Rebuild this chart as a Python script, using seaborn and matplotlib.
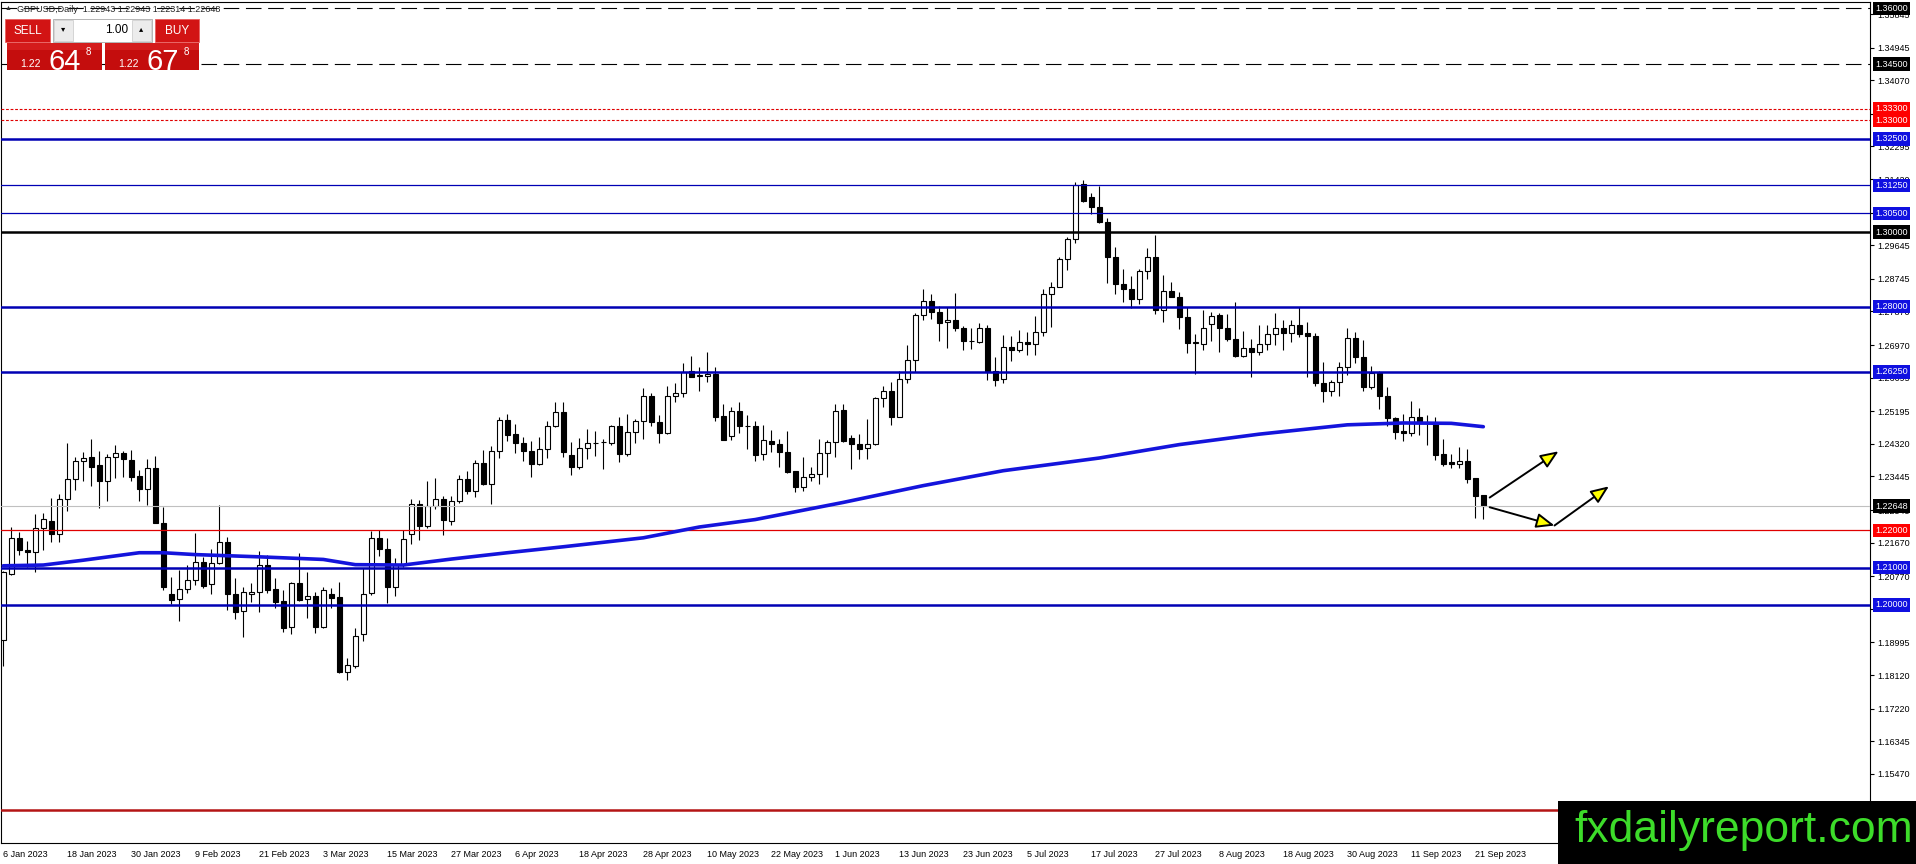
import numpy as np
import matplotlib
matplotlib.use('Agg')
import matplotlib.pyplot as plt
from matplotlib.patches import Rectangle, FancyArrowPatch
import seaborn as sns

# GBPUSD daily candles, 6 Jan 2023 .. 22 Sep 2023
opens = [
    1.1906, 1.2083, 1.2179, 1.2146, 1.2143, 1.2205, 1.2225, 1.2189, 1.2283, 1.2339,
    1.2385, 1.2396, 1.2375, 1.2333, 1.2396, 1.2407, 1.2389, 1.2346, 1.2310, 1.2366,
    1.2219, 1.2029, 1.2015, 1.2042, 1.2066, 1.2115, 1.2055, 1.2113, 1.2169, 1.2029,
    1.1985, 1.2030, 1.2036, 1.2107, 1.2042, 1.2011, 1.1940, 1.2058, 1.2016, 1.2024,
    1.1942, 1.2029, 1.2022, 1.1821, 1.1836, 1.1921, 1.2031, 1.2179, 1.2149, 1.2049,
    1.2107, 1.2190, 1.2270, 1.2213, 1.2264, 1.2284, 1.2226, 1.2280, 1.2337, 1.2306,
    1.2380, 1.2324, 1.2413, 1.2496, 1.2458, 1.2433, 1.2413, 1.2377, 1.2417, 1.2480,
    1.2517, 1.2402, 1.2369, 1.2420, 1.2433, 1.2436, 1.2433, 1.2480, 1.2404, 1.2463,
    1.2493, 1.2560, 1.2490, 1.2460, 1.2560, 1.2568, 1.2628, 1.2615, 1.2614, 1.2619,
    1.2507, 1.2454, 1.2521, 1.2481, 1.2481, 1.2405, 1.2440, 1.2432, 1.2411, 1.2359,
    1.2315, 1.2342, 1.2350, 1.2407, 1.2436, 1.2523, 1.2447, 1.2432, 1.2420, 1.2431,
    1.2554, 1.2574, 1.2505, 1.2605, 1.2657, 1.2778, 1.2816, 1.2786, 1.2758, 1.2764,
    1.2742, 1.2709, 1.2706, 1.2742, 1.2628, 1.2607, 1.2691, 1.2685, 1.2706, 1.2699,
    1.2733, 1.2834, 1.2853, 1.2927, 1.2980, 1.3128, 1.3093, 1.3066, 1.3028, 1.2932,
    1.2860, 1.2846, 1.2820, 1.2895, 1.2934, 1.2791, 1.2842, 1.2827, 1.2771, 1.2703,
    1.2701, 1.2753, 1.2778, 1.2742, 1.2712, 1.2668, 1.2688, 1.2677, 1.2700, 1.2727,
    1.2742, 1.2728, 1.2751, 1.2728, 1.2721, 1.2594, 1.2574, 1.2597, 1.2637, 1.2715,
    1.2666, 1.2584, 1.2623, 1.2559, 1.2500, 1.2467, 1.2462, 1.2503, 1.2490, 1.2489,
    1.2405, 1.2382, 1.2377, 1.2386, 1.2341, 1.2294,
]
highs = [
    1.2092, 1.2208, 1.2195, 1.2172, 1.2244, 1.2246, 1.2286, 1.2298, 1.2433, 1.2398,
    1.2409, 1.2445, 1.2412, 1.2404, 1.2429, 1.2414, 1.2416, 1.2362, 1.2391, 1.2399,
    1.2262, 1.2074, 1.2094, 1.2107, 1.2192, 1.2129, 1.2150, 1.2268, 1.2181, 1.2071,
    1.2049, 1.2058, 1.2145, 1.2134, 1.2071, 1.2040, 1.2062, 1.2140, 1.2088, 1.2036,
    1.2049, 1.2045, 1.2062, 1.1857, 1.1937, 1.2100, 1.2198, 1.2201, 1.2179, 1.2125,
    1.2201, 1.2283, 1.2281, 1.2332, 1.2341, 1.2292, 1.2292, 1.2349, 1.2359, 1.2389,
    1.2416, 1.2425, 1.2505, 1.2512, 1.2485, 1.2451, 1.2440, 1.2451, 1.2494, 1.2545,
    1.2545, 1.2436, 1.2447, 1.2471, 1.2467, 1.2444, 1.2483, 1.2505, 1.2512, 1.2498,
    1.2583, 1.2569, 1.2509, 1.2587, 1.2596, 1.2648, 1.2668, 1.2637, 1.2678, 1.2637,
    1.2539, 1.2532, 1.2545, 1.2509, 1.2493, 1.2483, 1.2469, 1.2444, 1.2466, 1.2359,
    1.2396, 1.2371, 1.2444, 1.2441, 1.2539, 1.2539, 1.2457, 1.2458, 1.2499, 1.2557,
    1.2588, 1.2599, 1.2628, 1.2697, 1.2782, 1.2847, 1.2834, 1.2802, 1.2800, 1.2836,
    1.2748, 1.2744, 1.2757, 1.2751, 1.2666, 1.2724, 1.2721, 1.2737, 1.2731, 1.2776,
    1.2846, 1.2867, 1.2934, 1.2986, 1.3135, 1.3140, 1.3106, 1.3123, 1.3037, 1.2961,
    1.2900, 1.2882, 1.2900, 1.2956, 1.2992, 1.2885, 1.2867, 1.2840, 1.2798, 1.2727,
    1.2791, 1.2786, 1.2782, 1.2779, 1.2813, 1.2735, 1.2713, 1.2751, 1.2751, 1.2784,
    1.2764, 1.2764, 1.2798, 1.2760, 1.2728, 1.2652, 1.2603, 1.2652, 1.2742, 1.2733,
    1.2711, 1.2641, 1.2628, 1.2584, 1.2503, 1.2512, 1.2547, 1.2527, 1.2509, 1.2503,
    1.2444, 1.2406, 1.2424, 1.2417, 1.2341, 1.2294,
]
lows = [
    1.1836, 1.2080, 1.2134, 1.2103, 1.2087, 1.2147, 1.2170, 1.2168, 1.2253, 1.2308,
    1.2332, 1.2320, 1.2261, 1.2280, 1.2341, 1.2342, 1.2332, 1.2280, 1.2268, 1.2219,
    1.2040, 1.2003, 1.1958, 1.2033, 1.2053, 1.2045, 1.2028, 1.2110, 1.1986, 1.1962,
    1.1913, 1.2009, 1.1982, 1.2033, 1.1991, 1.1928, 1.1921, 1.2011, 1.1964, 1.1924,
    1.1939, 1.1991, 1.1818, 1.1800, 1.1830, 1.1904, 1.2027, 1.2131, 1.2006, 1.2025,
    1.2103, 1.2163, 1.2174, 1.2205, 1.2257, 1.2188, 1.2214, 1.2274, 1.2298, 1.2290,
    1.2322, 1.2272, 1.2395, 1.2440, 1.2408, 1.2387, 1.2342, 1.2375, 1.2395, 1.2476,
    1.2396, 1.2348, 1.2365, 1.2391, 1.2400, 1.2364, 1.2429, 1.2384, 1.2400, 1.2433,
    1.2444, 1.2480, 1.2433, 1.2458, 1.2545, 1.2557, 1.2610, 1.2575, 1.2599, 1.2494,
    1.2441, 1.2441, 1.2460, 1.2418, 1.2387, 1.2389, 1.2411, 1.2371, 1.2355, 1.2304,
    1.2306, 1.2333, 1.2323, 1.2344, 1.2398, 1.2436, 1.2365, 1.2391, 1.2391, 1.2430,
    1.2532, 1.2482, 1.2503, 1.2596, 1.2626, 1.2764, 1.2768, 1.2709, 1.2688, 1.2734,
    1.2684, 1.2686, 1.2702, 1.2603, 1.2587, 1.2596, 1.2655, 1.2679, 1.2670, 1.2670,
    1.2721, 1.2746, 1.2852, 1.2898, 1.2970, 1.3080, 1.3048, 1.3025, 1.2864, 1.2834,
    1.2813, 1.2795, 1.2807, 1.2873, 1.2779, 1.2760, 1.2825, 1.2739, 1.2676, 1.2619,
    1.2685, 1.2709, 1.2679, 1.2709, 1.2666, 1.2664, 1.2612, 1.2670, 1.2684, 1.2697,
    1.2684, 1.2706, 1.2718, 1.2612, 1.2588, 1.2545, 1.2560, 1.2559, 1.2617, 1.2650,
    1.2575, 1.2580, 1.2525, 1.2480, 1.2444, 1.2440, 1.2452, 1.2456, 1.2429, 1.2390,
    1.2372, 1.2366, 1.2366, 1.2328, 1.2232, 1.2231,
]
closes = [
    1.2087, 1.2179, 1.2147, 1.2143, 1.2205, 1.2230, 1.2189, 1.2283, 1.2339, 1.2385,
    1.2393, 1.2371, 1.2333, 1.2396, 1.2407, 1.2391, 1.2344, 1.2312, 1.2366, 1.2219,
    1.2047, 1.2013, 1.2042, 1.2066, 1.2115, 1.2052, 1.2113, 1.2168, 1.2028, 1.1982,
    1.2036, 1.2036, 1.2107, 1.2040, 1.2009, 1.1937, 1.2058, 1.2013, 1.2024, 1.1942,
    1.2040, 1.2019, 1.1821, 1.1839, 1.1918, 1.2028, 1.2179, 1.2149, 1.2049, 1.2107,
    1.2176, 1.2270, 1.2213, 1.2264, 1.2283, 1.2228, 1.2280, 1.2337, 1.2306, 1.2380,
    1.2324, 1.2413, 1.2496, 1.2456, 1.2433, 1.2413, 1.2377, 1.2417, 1.2480, 1.2517,
    1.2409, 1.2369, 1.2420, 1.2433, 1.2435, 1.2437, 1.2480, 1.2404, 1.2463, 1.2493,
    1.2560, 1.2490, 1.2460, 1.2560, 1.2568, 1.2626, 1.2612, 1.2617, 1.2619, 1.2505,
    1.2441, 1.2521, 1.2481, 1.2480, 1.2402, 1.2442, 1.2431, 1.2409, 1.2357, 1.2315,
    1.2342, 1.2350, 1.2407, 1.2436, 1.2521, 1.2440, 1.2431, 1.2417, 1.2432, 1.2554,
    1.2574, 1.2505, 1.2605, 1.2657, 1.2778, 1.2816, 1.2786, 1.2757, 1.2764, 1.2742,
    1.2709, 1.2708, 1.2742, 1.2628, 1.2603, 1.2691, 1.2685, 1.2706, 1.2699, 1.2733,
    1.2834, 1.2853, 1.2927, 1.2980, 1.3126, 1.3084, 1.3066, 1.3028, 1.2932, 1.2860,
    1.2846, 1.2820, 1.2895, 1.2934, 1.2791, 1.2843, 1.2827, 1.2771, 1.2703, 1.2704,
    1.2744, 1.2776, 1.2742, 1.2712, 1.2668, 1.2688, 1.2677, 1.2700, 1.2727, 1.2742,
    1.2728, 1.2751, 1.2726, 1.2721, 1.2594, 1.2575, 1.2597, 1.2637, 1.2715, 1.2666,
    1.2584, 1.2621, 1.2559, 1.2500, 1.2465, 1.2460, 1.2503, 1.2490, 1.2489, 1.2402,
    1.2377, 1.2377, 1.2386, 1.2338, 1.2292, 1.2265,
]

# moving average (blue curve), sampled at a few bars
ma_idx = [0, 5, 10, 17, 20, 24, 32, 40, 44, 50, 56, 63, 70, 80, 87, 94,
          105, 115, 125, 137, 147, 157, 168, 175, 181, 185]
ma_val = [1.2105, 1.2107, 1.2120, 1.2140, 1.2140, 1.2135, 1.2129, 1.2122, 1.2108,
          1.2107, 1.2123, 1.2140, 1.2156, 1.2180, 1.2209, 1.2229, 1.2275, 1.2320,
          1.2360, 1.2394, 1.2430, 1.2458, 1.2483, 1.2488, 1.2487, 1.2478]

# horizontal levels drawn on the chart
level_vals = [1.36, 1.345, 1.333, 1.33, 1.325, 1.3125, 1.305, 1.30, 1.28, 1.2625,
              1.22648, 1.22, 1.21, 1.20, 1.145]
level_kind = ['dash', 'dash', 'reddot', 'reddot', 'blue2', 'blue1', 'blue1', 'black2',
              'blue2', 'blue2', 'grey', 'red1', 'blue2', 'blue2', 'red2']
label_vals = level_vals[:-1]

ytick_vals = [1.35845, 1.34945, 1.34070, 1.33170, 1.32295, 1.31420, 1.30520, 1.29645,
              1.28745, 1.27870, 1.26970, 1.26095, 1.25195, 1.24320, 1.23445, 1.22545,
              1.21670, 1.20770, 1.19895, 1.18995, 1.18120, 1.17220, 1.16345, 1.15470]

date_labels = ['6 Jan 2023', '18 Jan 2023', '30 Jan 2023', '9 Feb 2023', '21 Feb 2023',
               '3 Mar 2023', '15 Mar 2023', '27 Mar 2023', '6 Apr 2023', '18 Apr 2023',
               '28 Apr 2023', '10 May 2023', '22 May 2023', '1 Jun 2023', '13 Jun 2023',
               '23 Jun 2023', '5 Jul 2023', '17 Jul 2023', '27 Jul 2023', '8 Aug 2023',
               '18 Aug 2023', '30 Aug 2023', '11 Sep 2023', '21 Sep 2023']
date_pos = [8 * i for i in range(len(date_labels))]

# the three drawn arrows: (start bar, start price, end bar, end price)
arrows = [(185.8, 1.2288, 194.4, 1.2412),
          (185.8, 1.2262, 193.9, 1.2213),
          (193.9, 1.2213, 200.7, 1.2318)]

W, H = 1916, 864
BLUE_LINE = '#0000b4'
BLUE_BOX = '#1010e0'

styles = {
    'dash': dict(color='black', lw=0.8, ls=(0, (14, 6))),
    'reddot': dict(color='#e00000', lw=0.8, ls=(0, (2.5, 1.6))),
    'blue2': dict(color=BLUE_LINE, lw=1.8, ls='-'),
    'blue1': dict(color=BLUE_LINE, lw=0.9, ls='-'),
    'black2': dict(color='black', lw=1.8, ls='-'),
    'grey': dict(color='#c0c0c0', lw=0.8, ls='-'),
    'red1': dict(color='#e00000', lw=0.9, ls='-'),
    'red2': dict(color='#b41414', lw=1.8, ls='-'),
}
box_color = {'dash': 'black', 'reddot': '#ff0000', 'blue2': BLUE_BOX, 'blue1': BLUE_BOX,
             'black2': 'black', 'grey': 'black', 'red1': '#ff0000'}


def fig_rect(fig, x0, y0, x1, y1, **kw):
    # rectangle in figure pixels, measured from the top-left corner
    fig.add_artist(Rectangle((x0 / W, 1 - y1 / H), (x1 - x0) / W, (y1 - y0) / H,
                             transform=fig.transFigure, **kw))


def fig_text(fig, x, y, s, **kw):
    fig.text(x / W, 1 - y / H, s, **kw)


if __name__ == "__main__":
    sns.set_style("white")
    plt.rcParams['font.family'] = ['Liberation Sans', 'DejaVu Sans']

    fig = plt.figure(figsize=(W / 100, H / 100), dpi=100)
    ax = fig.add_axes([1 / W, (H - 843) / H, (1870 - 1) / W, (843 - 2) / H])

    idx = np.arange(len(opens))
    o, h, l, c = (np.array(v) for v in (opens, highs, lows, closes))
    up = c >= o

    # candles: wicks then bodies
    ax.vlines(idx, l, h, color='black', lw=0.8, zorder=2)
    body_low = np.minimum(o, c)
    body_h = np.maximum(np.abs(c - o), 0.00003)
    ax.bar(idx, body_h, bottom=body_low, width=0.6,
           color=np.where(up, 'white', 'black'), edgecolor='black',
           linewidth=0.8, zorder=3)

    # support / resistance levels
    for val, kind in zip(level_vals, level_kind):
        ax.axhline(val, zorder=4, **styles[kind])

    # moving average
    sns.lineplot(x=ma_idx, y=ma_val, ax=ax, color='#1414dc', lw=2.6, zorder=5)

    # arrows
    for x0, y0, x1, y1 in arrows:
        ax.add_patch(FancyArrowPatch((x0, y0), (x1, y1),
                                     arrowstyle='-|>,head_length=11,head_width=4.5',
                                     fc='#ffff00', ec='black', lw=1.4,
                                     shrinkA=0, shrinkB=0, zorder=6))

    ax.set_xlim((1 - 3.3) / 8, (1870 - 3.3) / 8)
    ax.set_ylim(1.36 - (843 - 8.3) / 3729, 1.36 + (8.3 - 2) / 3729)

    # right price axis
    ax.yaxis.tick_right()
    ax.set_yticks(ytick_vals, [f'{v:.5f}' for v in ytick_vals])
    ax.tick_params(axis='y', length=3, width=0.8, pad=2, labelsize=6.5,
                   colors='black', direction='out')
    ax.set_xticks(date_pos, date_labels, ha='left')
    ax.tick_params(axis='x', length=3, width=0.8, pad=2, labelsize=6.5,
                   colors='black', direction='out')
    ax.set_xlabel('')
    ax.set_ylabel('')
    for sp in ax.spines.values():
        sp.set_color('black')
        sp.set_linewidth(0.8)

    # coloured price boxes on the right axis
    ytr = ax.get_yaxis_transform()
    for val, kind in zip(label_vals, level_kind):
        ax.text(1 + 5 / 1869, val, f'{val:.5f}', transform=ytr, ha='left',
                va='center', fontsize=6.5, color='white', clip_on=False, zorder=10,
                bbox=dict(boxstyle='square,pad=0.25', fc=box_color[kind], ec='none'))

    # header line
    fig_text(fig, 5, 9, '\u25b2', fontsize=5, color='#333333', va='center')
    fig_text(fig, 17, 9, 'GBPUSD,Daily  1.22943 1.22943 1.22314 1.22648',
             fontsize=6.5, color='#222222', va='center')

    # one-click trading panel
    fig_rect(fig, 5, 19, 50, 42, fc='#d21414', ec='#e86060', lw=0.6)
    fig_rect(fig, 155, 19, 199, 42, fc='#d21414', ec='#e86060', lw=0.6)
    fig_rect(fig, 53, 19, 152, 42, fc='white', ec='#a8a8a8', lw=0.6)
    fig_rect(fig, 54, 20, 73, 41, fc='#ececec', ec='#c8c8c8', lw=0.5)
    fig_rect(fig, 132, 20, 151, 41, fc='#ececec', ec='#c8c8c8', lw=0.5)
    fig_text(fig, 27.5, 31, 'SELL', fontsize=8.5, color='white', ha='center', va='center')
    fig_text(fig, 177, 31, 'BUY', fontsize=8.5, color='white', ha='center', va='center')
    fig_text(fig, 63.5, 30, '\u25be', fontsize=6, color='black', ha='center', va='center')
    fig_text(fig, 141.5, 30, '\u25b4', fontsize=6, color='black', ha='center', va='center')
    fig_text(fig, 128, 30, '1.00', fontsize=8.5, color='black', ha='right', va='center')

    for x0, x1 in [(7, 102), (105, 199)]:
        fig_rect(fig, x0, 43, x1, 70, fc='#c40d0d', ec='none')
        fig_rect(fig, x0, 43, x1, 50, fc='#d41c1c', ec='none')
    for x_small, x_big, x_sup, big in [(20, 49, 86, '64'), (118, 147, 184, '67')]:
        fig_text(fig, x_small, 67, '1.22', fontsize=7.5, color='white', va='baseline')
        fig_text(fig, x_big, 70, big, fontsize=21, color='white', va='baseline')
        fig_text(fig, x_sup, 55, '8', fontsize=7, color='white', va='baseline')

    # watermark
    fig_rect(fig, 1558, 801, 1916, 864, fc='black', ec='none')
    fig_text(fig, 1574, 842, 'fxdailyreport.com', fontsize=32, color='#3ddc2a',
             va='baseline', ha='left')

    fig.savefig('out.png', dpi=100)
